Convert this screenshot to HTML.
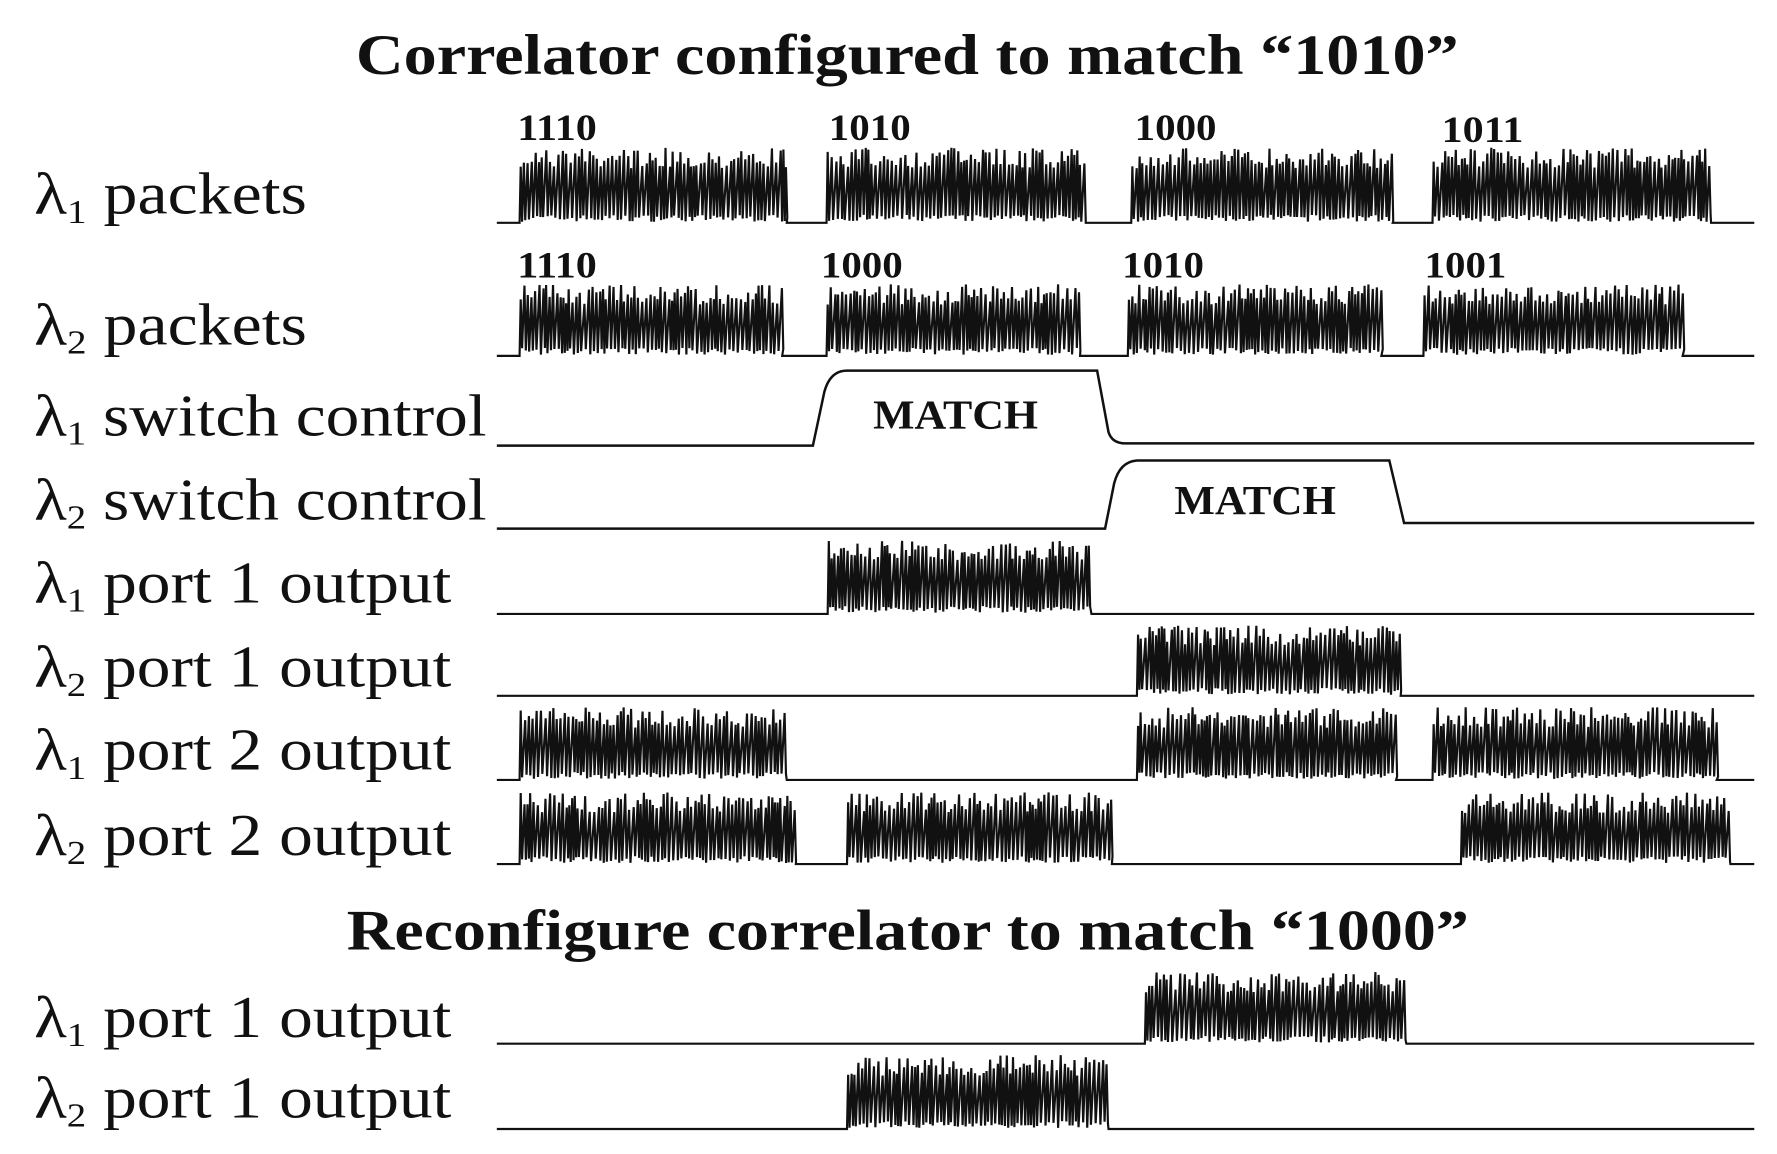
<!DOCTYPE html>
<html><head><meta charset="utf-8"><style>
html,body{margin:0;padding:0;background:#fff;}
svg{display:block}
text{font-family:"Liberation Serif",serif;fill:#111}
.lab{font-size:52px}
.num{font-size:33px;font-weight:bold}
.ttl{font-size:50px;font-weight:bold}
.m{font-size:36px;font-weight:bold}
</style></head><body>
<svg id="s" width="1777" height="1154" viewBox="0 0 1563 1015" preserveAspectRatio="none" xmlns="http://www.w3.org/2000/svg">
<text class="ttl" x="313" y="65" textLength="970" lengthAdjust="spacingAndGlyphs">Correlator configured to match “1010”</text>
<text class="ttl" x="305" y="835" textLength="987" lengthAdjust="spacingAndGlyphs">Reconfigure correlator to match “1000”</text>
<g class="lab">
<text x="30" y="188" textLength="240" lengthAdjust="spacingAndGlyphs">λ<tspan font-size="30" dy="8">1</tspan><tspan dy="-8"> packets</tspan></text>
<text x="30" y="303" textLength="240" lengthAdjust="spacingAndGlyphs">λ<tspan font-size="30" dy="8">2</tspan><tspan dy="-8"> packets</tspan></text>
<text x="30" y="383" textLength="398" lengthAdjust="spacingAndGlyphs">λ<tspan font-size="30" dy="8">1</tspan><tspan dy="-8"> switch control</tspan></text>
<text x="30" y="457" textLength="398" lengthAdjust="spacingAndGlyphs">λ<tspan font-size="30" dy="8">2</tspan><tspan dy="-8"> switch control</tspan></text>
<text x="30" y="530" textLength="367" lengthAdjust="spacingAndGlyphs">λ<tspan font-size="30" dy="8">1</tspan><tspan dy="-8"> port 1 output</tspan></text>
<text x="30" y="604" textLength="367" lengthAdjust="spacingAndGlyphs">λ<tspan font-size="30" dy="8">2</tspan><tspan dy="-8"> port 1 output</tspan></text>
<text x="30" y="677" textLength="367" lengthAdjust="spacingAndGlyphs">λ<tspan font-size="30" dy="8">1</tspan><tspan dy="-8"> port 2 output</tspan></text>
<text x="30" y="752" textLength="367" lengthAdjust="spacingAndGlyphs">λ<tspan font-size="30" dy="8">2</tspan><tspan dy="-8"> port 2 output</tspan></text>
<text x="30" y="912" textLength="367" lengthAdjust="spacingAndGlyphs">λ<tspan font-size="30" dy="8">1</tspan><tspan dy="-8"> port 1 output</tspan></text>
<text x="30" y="983" textLength="367" lengthAdjust="spacingAndGlyphs">λ<tspan font-size="30" dy="8">2</tspan><tspan dy="-8"> port 1 output</tspan></text>
</g>
<g class="num">
<text x="455" y="123" textLength="70" lengthAdjust="spacingAndGlyphs">1110</text><text x="729" y="123" textLength="72" lengthAdjust="spacingAndGlyphs">1010</text><text x="998" y="123" textLength="72" lengthAdjust="spacingAndGlyphs">1000</text><text x="1268" y="125" textLength="72" lengthAdjust="spacingAndGlyphs">1011</text>
<text x="455" y="244" textLength="70" lengthAdjust="spacingAndGlyphs">1110</text><text x="722" y="244" textLength="72" lengthAdjust="spacingAndGlyphs">1000</text><text x="987" y="244" textLength="72" lengthAdjust="spacingAndGlyphs">1010</text><text x="1253" y="244" textLength="72" lengthAdjust="spacingAndGlyphs">1001</text>
</g>
<g fill="none" stroke="#111" stroke-width="2.2">
<path d="M437 392 H715 L725 345 Q730 326 745 326 H965 L975 380 Q978 390 990 390 H1543"/>
<path d="M437 465 H972 L980 425 Q985 406 1000 405 H1222 L1235 460 H1543"/>
</g>
<text class="m" x="768" y="377" textLength="145" lengthAdjust="spacingAndGlyphs">MATCH</text>
<text class="m" x="1033" y="452" textLength="142" lengthAdjust="spacingAndGlyphs">MATCH</text>
<g id="w" fill="none" stroke="#111" stroke-width="1.9"></g>
</svg>
<script>
var seed=7;function r(){seed=(seed*16807)%2147483647;return seed/2147483647;}
var rows=[[196,130,[[457,692],[727,955],[995,1225],[1260,1505]]],
[313,250,[[457,688],[727,950],[992,1215],[1252,1480]]],
[540,475,[[728,960]]],[612,550,[[1000,1232]]],
[686,622,[[457,692],[1000,1228],[1260,1510]]],
[760,697,[[457,700],[745,978],[1285,1522]]],
[918,855,[[1007,1237]]],[993,928,[[745,975]]]];
var g=document.getElementById('w'),h='';
rows.forEach(function(R){var b=R[0],t=R[1],d='M437 '+b;
R[2].forEach(function(s){d+=' H'+s[0];var x=s[0];
while(x<s[1]){var lo=b-1-r()*6,hi=t+r()*18;d+=' L'+(x+1)+' '+hi.toFixed(1)+' L'+(x+2.2)+' '+lo.toFixed(1);x+=2.2+r()*2;}
d+=' L'+s[1]+' '+b;});
d+=' H1543';h+='<path d="'+d+'"/>';});
g.innerHTML=h;
</script>
</body></html>
